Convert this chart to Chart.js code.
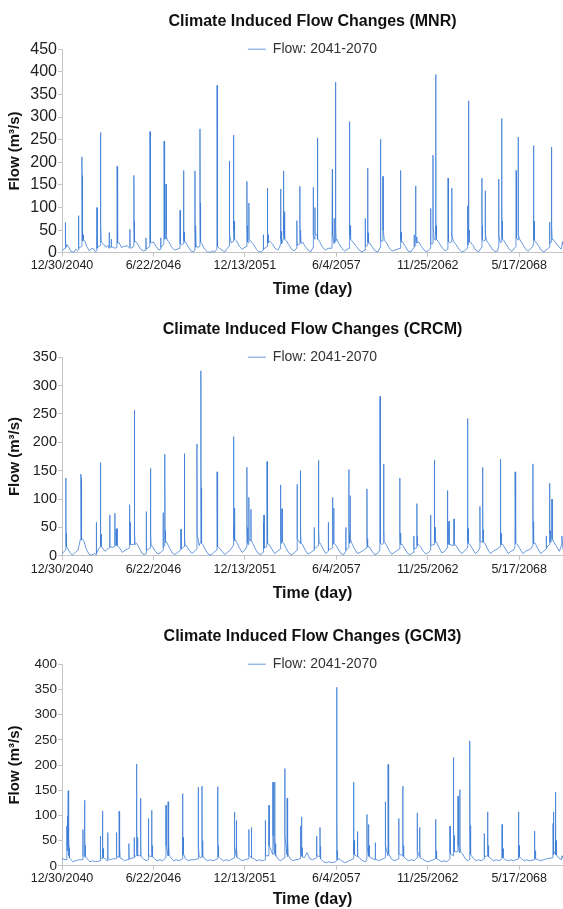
<!DOCTYPE html>
<html>
<head>
<meta charset="utf-8">
<script src="https://cdn.jsdelivr.net/npm/chart.js@4.4.0/dist/chart.umd.min.js"></script>
<style>
body { margin: 0; background: #fff; overflow: hidden; }
.panel { position: absolute; left: 0; width: 563px; }
</style>
</head>
<body>
<div class="panel" style="top:0;height:303px"><canvas id="mnr"></canvas></div>
<div class="panel" style="top:303px;height:304px"><canvas id="crcm"></canvas></div>
<div class="panel" style="top:607px;height:302px"><canvas id="gcm3"></canvas></div>
<script>
// x = days since 12/30/2040, y = flow (m3/s)
var tickDays = [0, 2000, 4000, 6000, 8000, 10000];
var tickLabels = ['12/30/2040', '6/22/2046', '12/13/2051', '6/4/2057', '11/25/2062', '5/17/2068'];
var lastDay = 10958;
var seriesLabel = 'Flow: 2041-2070';

var mnrFlow = [
  [0,5],[40,8],[68,10],[70,67],[73,40],[76,12],[84,30],[88,12],[110,18],[150,12],[200,3],[260,1],[300,8],[340,4],
  [360,6],[363,82],[366,10],[430,14],[436,212],[438,171],[441,60],[445,30],[452,55],[456,26],[462,40],[466,27],[470,28],[500,26],[540,14],[600,4],[650,10],[700,8],
  [730,2],[763,5],[766,100],[769,10],[800,14],[838,16],[840,266],[842,140],[846,40],[852,60],[856,25],[860,24],[900,20],[960,12],[1000,16],
  [1030,10],[1033,45],[1036,14],[1075,12],[1078,30],[1081,14],[1120,12],[1160,10],
  [1200,12],[1206,191],[1209,60],[1214,25],[1220,48],[1224,22],[1250,22],[1300,12],[1360,14],[1420,16],[1482,10],[1485,52],[1488,14],[1530,10],
  [1568,15],[1573,171],[1576,70],[1580,30],[1587,45],[1591,24],[1610,25],[1650,20],[1720,8],[1780,4],
  [1835,6],[1837,33],[1840,8],[1920,14],[1925,268],[1927,90],[1931,30],[1938,50],[1942,22],[1960,22],[2000,24],[2060,14],[2120,6],
  [2158,8],[2160,33],[2163,12],[2228,20],[2233,247],[2236,80],[2242,56],[2246,30],[2250,40],[2274,30],[2277,152],[2280,40],[2300,28],[2340,24],[2400,12],[2460,6],[2520,8],
  [2580,10],[2585,94],[2588,20],[2620,18],[2655,20],[2658,182],[2661,55],[2666,30],[2672,46],[2676,24],[2700,24],[2760,14],[2820,4],[2880,2],
  [2900,6],[2908,181],[2910,60],[2914,12],[2930,55],[2933,14],[2990,12],[3015,16],[3018,274],[3021,110],[3025,30],[3031,58],[3035,24],[3060,20],[3120,8],[3180,2],[3240,1],[3300,4],
  [3340,2],[3388,8],[3392,370],[3394,60],[3398,20],[3405,34],[3409,14],[3440,10],[3500,6],[3560,2],[3600,8],
  [3655,15],[3663,203],[3666,40],[3700,22],[3748,25],[3751,260],[3753,145],[3757,50],[3763,70],[3767,32],[3780,30],[3820,26],[3880,14],[3940,8],[4000,12],
  [4040,14],[4044,158],[4047,60],[4052,28],[4058,50],[4062,24],[4085,22],[4088,110],[4091,30],[4130,25],[4180,20],[4250,8],[4300,3],[4360,2],
  [4400,6],[4404,40],[4408,8],[4489,14],[4492,143],[4495,40],[4500,22],[4506,40],[4510,22],[4540,26],[4600,20],[4660,10],[4720,6],
  [4760,12],[4780,20],[4783,141],[4786,30],[4800,48],[4803,20],[4841,30],[4844,181],[4847,100],[4851,40],[4857,80],[4861,35],[4870,35],[4873,91],[4877,30],[4910,26],[4960,18],[5020,8],[5080,4],
  [5130,10],[5137,71],[5140,16],[5198,20],[5203,147],[5206,50],[5212,36],[5216,24],[5225,45],[5228,20],[5260,24],[5320,14],[5380,6],[5440,2],
  [5490,12],[5496,145],[5499,40],[5530,30],[5533,100],[5536,40],[5580,40],[5584,254],[5586,156],[5590,60],[5594,90],[5597,30],[5600,30],[5640,24],[5700,12],[5760,6],[5820,10],
  [5905,10],[5914,185],[5917,40],[5950,20],[5953,76],[5956,25],[5977,24],[5980,377],[5982,150],[5986,40],[5992,55],[5996,28],[6010,30],[6060,20],[6120,10],[6180,4],
  [6280,10],[6288,290],[6290,154],[6294,40],[6300,60],[6304,30],[6320,30],[6380,22],[6440,14],[6500,6],[6560,2],
  [6628,6],[6633,76],[6636,14],[6680,16],[6684,187],[6687,60],[6692,25],[6698,44],[6702,22],[6730,22],[6790,12],[6850,4],[6910,2],
  [6958,12],[6963,251],[6966,50],[6972,40],[6976,26],[7000,26],[7019,30],[7022,169],[7025,50],[7050,28],[7100,22],[7160,10],[7220,4],[7280,6],
  [7395,10],[7403,182],[7406,50],[7412,30],[7418,45],[7422,24],[7450,24],[7510,14],[7570,4],[7630,2],
  [7700,12],[7703,40],[7706,14],[7730,16],[7733,148],[7736,50],[7742,38],[7746,24],[7760,35],[7763,22],[7800,24],[7860,14],[7920,6],[7980,2],
  [8058,10],[8063,98],[8066,20],[8110,20],[8114,216],[8117,60],[8140,30],[8170,28],[8173,394],[8175,130],[8180,40],[8186,60],[8190,30],[8210,28],[8260,20],[8320,10],[8380,4],
  [8440,8],[8444,165],[8447,40],[8453,55],[8457,24],[8480,22],[8522,24],[8525,143],[8528,40],[8560,26],[8620,18],[8680,8],[8740,2],[8800,4],
  [8866,10],[8870,104],[8873,20],[8889,18],[8892,336],[8894,120],[8898,40],[8904,50],[8908,24],[8930,24],[8990,16],[9050,6],[9110,2],
  [9180,12],[9185,165],[9188,50],[9194,60],[9198,28],[9220,26],[9255,28],[9258,137],[9261,40],[9290,26],[9350,18],[9410,8],[9470,3],[9530,4],
  [9548,14],[9552,163],[9555,40],[9590,22],[9615,24],[9618,297],[9620,100],[9625,40],[9631,70],[9635,30],[9660,28],[9720,18],[9780,8],[9840,3],
  [9928,14],[9933,182],[9936,60],[9942,75],[9946,32],[9960,30],[9974,28],[9977,256],[9979,120],[9984,40],[10010,30],[10070,20],[10130,10],[10190,3],
  [10300,14],[10311,20],[10314,237],[10316,104],[10320,30],[10326,70],[10330,28],[10360,24],[10420,16],[10480,6],[10540,2],
  [10660,12],[10666,68],[10669,20],[10700,24],[10703,234],[10705,143],[10710,50],[10716,60],[10720,30],[10740,30],[10800,22],[10860,14],[10920,8],[10950,25],[10958,18]
];

var crcmFlow = [
  [0,4],[80,10],[84,137],[86,60],[90,20],[96,40],[100,16],[120,14],[170,6],[230,1],[290,6],[350,10],
  [405,30],[410,45],[414,144],[417,136],[420,120],[424,40],[430,50],[434,28],[440,30],[480,26],[530,12],[590,3],[650,1],[710,4],
  [749,2],[752,59],[755,4],[800,12],[836,16],[840,164],[843,60],[848,20],[854,38],[858,16],[880,14],[940,8],[1000,12],
  [1042,14],[1045,72],[1048,16],[1100,15],[1152,16],[1155,75],[1158,20],[1180,18],[1183,47],[1186,18],[1200,20],[1203,48],[1206,18],[1260,14],[1320,6],[1380,10],[1440,12],
  [1474,14],[1478,90],[1481,30],[1490,20],[1493,59],[1496,20],[1576,20],[1580,257],[1583,60],[1588,25],[1594,40],[1598,20],[1630,22],[1690,14],[1750,4],[1800,2],
  [1840,4],[1844,78],[1847,10],[1900,12],[1928,14],[1932,154],[1935,50],[1940,20],[1946,36],[1950,18],[1980,16],[2040,8],[2100,3],[2160,6],
  [2210,10],[2213,76],[2216,15],[2244,18],[2248,179],[2250,118],[2254,35],[2260,45],[2264,24],[2290,24],[2350,14],[2410,5],[2470,2],[2530,6],
  [2600,10],[2603,47],[2606,12],[2670,16],[2673,180],[2676,50],[2682,22],[2688,34],[2692,18],[2720,18],[2780,10],[2840,4],[2900,8],
  [2948,12],[2952,197],[2955,40],[3000,18],[3030,24],[3035,100],[3040,326],[3042,120],[3047,30],[3053,46],[3057,22],[3080,20],[3140,10],[3200,3],[3260,1],[3320,6],
  [3385,10],[3390,109],[3392,148],[3395,50],[3400,20],[3406,35],[3410,16],[3440,14],[3500,8],[3560,2],[3620,6],[3680,10],
  [3746,18],[3751,210],[3754,70],[3760,30],[3766,52],[3770,26],[3775,28],[3778,84],[3781,30],[3820,24],[3880,14],[3940,6],[4000,10],
  [4040,16],[4044,156],[4047,50],[4060,22],[4066,44],[4070,20],[4085,24],[4088,103],[4091,30],[4130,26],[4133,82],[4136,28],[4170,22],[4230,12],[4290,4],[4350,2],
  [4400,6],[4403,58],[4406,10],[4416,12],[4419,72],[4422,14],[4480,16],[4484,166],[4487,60],[4493,25],[4499,42],[4503,22],[4530,20],[4590,12],[4650,4],[4710,8],
  [4774,12],[4778,125],[4781,40],[4787,38],[4791,22],[4800,22],[4811,30],[4814,83],[4817,25],[4850,22],[4910,12],[4970,4],[5030,2],[5090,6],
  [5140,10],[5143,126],[5146,30],[5206,22],[5210,150],[5213,50],[5220,24],[5226,40],[5230,22],[5260,20],[5320,10],[5380,3],[5440,6],
  [5515,10],[5518,50],[5521,12],[5600,18],[5606,168],[5609,60],[5615,25],[5621,44],[5625,22],[5650,22],[5710,12],[5770,4],
  [5823,8],[5826,59],[5829,10],[5910,14],[5914,103],[5917,30],[5923,36],[5927,20],[5941,22],[5944,84],[5947,22],[5980,20],[6040,12],[6100,4],[6160,2],
  [6205,8],[6208,50],[6211,10],[6270,14],[6274,152],[6277,50],[6283,40],[6287,22],[6300,24],[6303,106],[6306,30],[6340,22],[6400,12],[6460,4],[6520,6],
  [6600,10],[6666,14],[6670,118],[6673,30],[6680,18],[6686,30],[6690,16],[6720,16],[6780,8],[6840,2],[6900,4],
  [6952,10],[6956,281],[6958,100],[6962,30],[6968,45],[6972,22],[7000,20],[7033,22],[7036,162],[7039,50],[7045,25],[7090,20],[7150,10],[7210,3],[7270,6],
  [7384,12],[7388,137],[7391,40],[7400,22],[7406,40],[7410,20],[7440,20],[7500,12],[7560,4],[7620,2],[7680,6],
  [7693,10],[7696,35],[7699,12],[7758,14],[7762,92],[7765,30],[7771,34],[7775,18],[7790,20],[7840,16],[7900,8],[7960,3],[8020,6],
  [8060,10],[8063,72],[8066,18],[8140,20],[8144,169],[8147,60],[8153,28],[8159,50],[8163,24],[8190,24],[8250,14],[8310,5],[8370,8],
  [8426,14],[8430,115],[8433,40],[8439,36],[8443,20],[8463,20],[8466,61],[8469,20],[8573,18],[8576,65],[8579,20],[8620,18],[8680,10],[8740,4],[8800,8],
  [8866,14],[8870,242],[8872,80],[8877,25],[8883,48],[8887,22],[8920,20],[8980,12],[9040,4],[9100,8],
  [9138,14],[9141,87],[9144,25],[9196,24],[9200,156],[9203,60],[9210,28],[9216,46],[9220,24],[9250,22],[9310,12],[9370,4],[9430,8],
  [9520,12],[9584,16],[9588,170],[9591,60],[9598,24],[9604,40],[9608,20],[9640,20],[9700,12],[9760,4],[9820,8],
  [9880,10],[9907,16],[9911,148],[9914,50],[9920,22],[9926,44],[9930,22],[9960,20],[10020,12],[10080,4],[10140,8],
  [10250,12],[10296,18],[10300,162],[10303,60],[10310,25],[10316,46],[10320,22],[10350,22],[10410,12],[10470,4],[10530,8],
  [10590,12],[10593,35],[10596,14],[10662,20],[10666,128],[10669,40],[10675,44],[10679,24],[10715,26],[10718,100],[10721,30],[10760,24],[10820,16],[10880,8],[10930,20],[10933,35],[10958,12]
];

var gcm3Flow = [
  [0,14],[100,12],[106,79],[110,30],[121,99],[124,40],[136,149],[139,60],[145,20],[151,50],[155,22],[161,36],[165,16],[180,14],[240,8],[300,10],[360,12],
  [455,12],[458,72],[461,20],[492,18],[495,130],[498,50],[505,20],[511,40],[515,18],[550,14],[610,8],[670,10],[730,8],
  [836,10],[840,59],[843,16],[880,14],[884,109],[887,40],[895,18],[901,34],[905,16],[940,14],[990,10],
  [1001,66],[1004,14],[1060,12],[1120,14],[1189,14],[1192,66],[1195,20],[1246,16],[1250,108],[1253,40],[1260,18],[1266,40],[1270,16],[1310,14],[1370,10],[1430,12],
  [1460,12],[1463,44],[1466,14],[1577,16],[1580,56],[1583,18],[1628,20],[1632,202],[1635,70],[1642,25],[1648,56],[1652,24],[1658,40],[1662,20],[1716,20],[1720,134],[1723,40],[1730,18],[1780,14],[1840,10],
  [1889,12],[1892,94],[1895,20],[1958,18],[1962,110],[1965,40],[1972,18],[1978,40],[1982,18],[2020,14],[2080,10],[2140,12],[2200,10],
  [2273,16],[2277,120],[2280,40],[2317,20],[2321,127],[2324,45],[2332,20],[2338,50],[2342,22],[2380,16],[2440,10],[2500,12],[2560,10],
  [2632,14],[2636,143],[2639,50],[2646,20],[2652,56],[2656,24],[2700,14],[2760,10],[2820,12],
  [2900,12],[2977,14],[2981,156],[2984,40],[3000,18],[3058,16],[3062,158],[3065,50],[3072,18],[3078,44],[3082,20],[3120,14],[3180,10],[3240,12],[3300,10],
  [3360,12],[3402,14],[3406,157],[3409,50],[3416,20],[3422,40],[3426,18],[3470,14],[3530,10],[3590,12],[3650,10],
  [3769,16],[3773,107],[3776,40],[3807,20],[3810,90],[3813,30],[3820,18],[3826,36],[3830,16],[3880,14],[3940,10],[4000,12],
  [4085,14],[4088,72],[4091,20],[4136,18],[4139,76],[4142,24],[4148,30],[4152,16],[4200,14],[4260,10],[4320,12],[4380,10],
  [4445,12],[4448,90],[4451,20],[4524,20],[4528,120],[4531,40],[4612,22],[4616,166],[4619,60],[4649,24],[4653,166],[4656,50],[4665,20],[4671,44],[4675,22],[4720,14],[4780,10],
  [4869,16],[4873,193],[4876,60],[4920,22],[4924,134],[4927,40],[4935,18],[4941,50],[4945,22],[4990,14],[5050,10],[5110,12],
  [5214,14],[5218,79],[5221,24],[5236,20],[5240,97],[5243,30],[5250,18],[5256,36],[5260,18],[5300,16],[5360,26],[5420,14],
  [5480,12],[5567,16],[5570,59],[5573,20],[5640,18],[5643,76],[5646,22],[5652,38],[5656,14],[5660,14],[5720,8],[5780,6],[5840,8],[5900,6],
  [5990,8],[6006,10],[6010,354],[6012,92],[6016,20],[6022,30],[6026,12],[6060,14],[6120,10],[6180,6],[6240,8],
  [6372,14],[6376,166],[6379,60],[6386,24],[6392,50],[6396,22],[6461,18],[6464,68],[6467,20],[6520,14],[6580,10],[6640,8],
  [6667,14],[6670,102],[6673,40],[6703,20],[6706,82],[6709,24],[6715,40],[6719,18],[6750,16],[6850,12],[6853,46],[6856,14],[6920,10],[6980,12],
  [7070,16],[7073,127],[7076,40],[7128,20],[7132,201],[7135,70],[7142,24],[7148,56],[7152,24],[7200,14],[7260,10],[7320,12],
  [7363,14],[7366,94],[7369,24],[7450,20],[7454,158],[7457,50],[7465,20],[7471,40],[7475,18],[7520,14],[7580,10],[7640,12],[7700,10],
  [7766,16],[7770,105],[7773,30],[7818,18],[7821,76],[7824,20],[7830,34],[7834,16],[7880,14],[7940,10],[8000,8],[8060,10],
  [8120,12],[8169,14],[8173,92],[8176,30],[8185,16],[8191,30],[8195,14],[8240,12],[8300,8],[8360,10],[8420,8],
  [8485,14],[8488,79],[8491,24],[8558,20],[8562,215],[8565,70],[8575,30],[8581,60],[8585,28],[8660,28],[8664,138],[8667,40],[8697,26],[8701,151],[8704,45],[8712,28],[8760,24],[8820,14],[8880,10],
  [8910,12],[8914,87],[8918,22],[8921,248],[8924,80],[8932,24],[8938,50],[8942,22],[8990,16],[9050,10],[9110,12],[9170,10],
  [9233,14],[9236,64],[9239,18],[9306,20],[9310,107],[9313,35],[9322,18],[9328,40],[9332,18],[9380,14],[9440,10],[9500,12],[9560,10],
  [9621,14],[9625,82],[9628,24],[9640,16],[9646,34],[9650,16],[9700,12],[9760,10],[9820,12],[9880,10],
  [9979,14],[9983,107],[9986,30],[9995,16],[10001,40],[10005,18],[10050,14],[10110,10],[10170,12],[10230,10],
  [10332,12],[10336,69],[10339,20],[10350,14],[10356,30],[10360,14],[10410,12],[10470,10],[10530,12],[10600,14],
  [10736,16],[10740,84],[10743,24],[10752,22],[10755,107],[10758,30],[10787,24],[10791,146],[10794,45],[10802,22],[10808,50],[10812,22],[10860,16],[10920,12],[10940,20],[10958,14]
];

// the legend overlaps the top edge of the plot, like the original
var legendDown = {
  id: 'legendDown',
  afterLayout: function (chart) {
    chart.legend.top += 17;
    chart.legend.bottom += 17;
  }
};

function tickText(v) {
  var i = tickDays.indexOf(v);
  return i < 0 ? '' : tickLabels[i];
}

function makeChart(id, name, flow, yMax, look) {
  new Chart(document.getElementById(id), {
    type: 'line',
    data: {
      datasets: [{
        label: seriesLabel,
        data: flow.map(function (p) { return { x: p[0], y: p[1] }; }),
        borderColor: 'rgba(62, 126, 214, 0.78)',
        backgroundColor: 'rgba(62, 126, 214, 0.78)',
        borderWidth: 1,
        pointRadius: 0,
        tension: 0
      }]
    },
    options: {
      responsive: true,
      maintainAspectRatio: false,
      animation: false,
      layout: { padding: { left: 0, right: 0, top: 0, bottom: 0 } },
      plugins: {
        title: {
          display: true,
          text: 'Climate Induced Flow Changes (' + name + ')',
          fullSize: false,
          color: '#111',
          font: { family: 'Liberation Sans, Arial, sans-serif', size: 16, weight: 'bold' },
          padding: { top: look.titleTop, bottom: look.titleBottom }
        },
        legend: {
          position: 'top',
          fullSize: false,
          labels: {
            usePointStyle: true,
            pointStyle: 'line',
            pointStyleWidth: 18,
            padding: 0,
            color: '#333',
            font: { family: 'Liberation Sans, Arial, sans-serif', size: 14 }
          }
        },
        tooltip: { enabled: false }
      },
      scales: {
        x: {
          type: 'linear',
          min: 0,
          max: lastDay,
          afterBuildTicks: function (s) { s.ticks = tickDays.map(function (d) { return { value: d }; }); },
          grid: { drawOnChartArea: false, tickLength: 4, color: '#c4c4c4' },
          border: { color: '#c4c4c4' },
          ticks: {
            autoSkip: false,
            maxRotation: 0,
            padding: look.tickPad,
            color: '#222',
            font: { family: 'Liberation Sans, Arial, sans-serif', size: 12.5 },
            callback: tickText
          },
          title: {
            display: true,
            text: 'Time (day)',
            color: '#111',
            font: { family: 'Liberation Sans, Arial, sans-serif', size: 16, weight: 'bold' },
            padding: { top: look.xTitleTop, bottom: look.xTitleBottom }
          }
        },
        y: {
          min: 0,
          max: yMax,
          afterFit: function (s) { s.width = 62; },
          grid: { drawOnChartArea: false, tickLength: 4, color: '#c4c4c4' },
          border: { color: '#c4c4c4' },
          ticks: {
            stepSize: 50,
            padding: 1,
            color: '#222',
            font: { family: 'Liberation Sans, Arial, sans-serif', size: look.yFont }
          },
          title: {
            display: true,
            text: 'Flow (m³/s)',
            color: '#111',
            font: { family: 'Liberation Sans, Arial, sans-serif', size: 15, weight: 'bold' },
            padding: { top: 6, bottom: 0 }
          }
        }
      }
    },
    plugins: [legendDown]
  });
}

makeChart('mnr', 'MNR', mnrFlow, 450, { yFont: 16, titleTop: 12, titleBottom: -6, tickPad: 1, xTitleTop: 6, xTitleBottom: 4 });
makeChart('crcm', 'CRCM', crcmFlow, 350, { yFont: 14.5, titleTop: 17, titleBottom: -6, tickPad: 2, xTitleTop: 5, xTitleBottom: 4 });
makeChart('gcm3', 'GCM3', gcm3Flow, 400, { yFont: 13.5, titleTop: 20, titleBottom: -6, tickPad: 1, xTitleTop: 3, xTitleBottom: 0 });
</script>
</body>
</html>
